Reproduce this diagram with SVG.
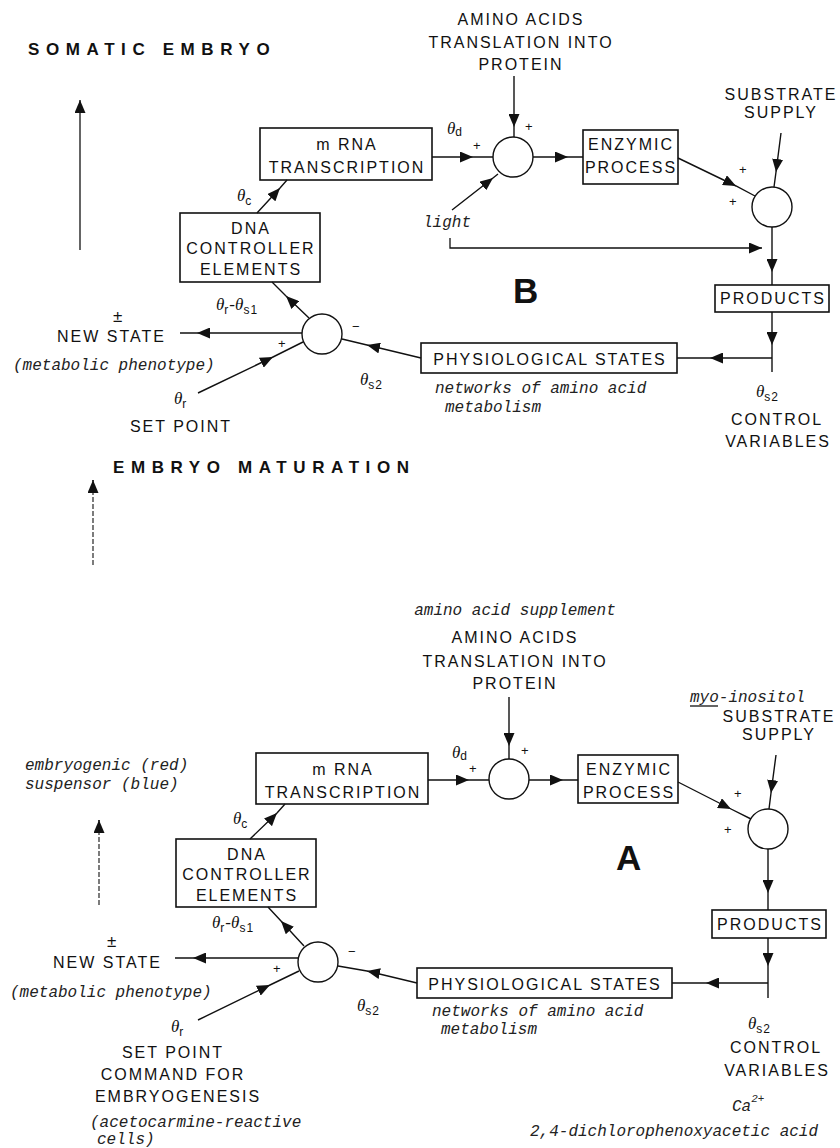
<svg xmlns="http://www.w3.org/2000/svg" width="840" height="1148" viewBox="0 0 840 1148">
<style>
.box{fill:#fff;stroke:#111;stroke-width:1.6}
.jn{fill:#fff;stroke:#111;stroke-width:1.4}
.ln{fill:none;stroke:#111;stroke-width:1.4;marker-mid:url(#ah)}
.lp{fill:none;stroke:#111;stroke-width:1.3}
.dash{fill:none;stroke:#111;stroke-width:1.1;stroke-dasharray:5 2}
.cap{font-family:"Liberation Sans",Arial,sans-serif;font-size:16px;letter-spacing:2px;fill:#111}
.c{text-anchor:middle}
.hd{font-family:"Liberation Sans",Arial,sans-serif;font-weight:bold;font-size:17px;letter-spacing:6.6px;fill:#111}
.big{font-family:"Liberation Sans",Arial,sans-serif;font-weight:bold;font-size:35px;fill:#111}
.it{font-family:"Liberation Mono","Courier New",monospace;font-style:italic;font-size:16px;fill:#222}
.th{font-family:"Liberation Serif","Times New Roman",serif;font-style:italic;font-size:17px;fill:#111}
.sb{font-family:"Liberation Sans",Arial,sans-serif;font-style:normal;font-size:12px;letter-spacing:1px}
.pm{font-family:"Liberation Sans",Arial,sans-serif;font-size:13px;fill:#111}
.pmb{font-family:"Liberation Sans",Arial,sans-serif;font-size:17px;fill:#111}
</style>
<defs>
<marker id="ah" viewBox="0 0 13 11" refX="13" refY="5.5" markerWidth="13" markerHeight="11" markerUnits="userSpaceOnUse" orient="auto"><path d="M0,0 L13,5.5 L0,11 z" fill="#111"/></marker>
</defs>

<g id="headings">
<text class="hd" x="28" y="55">SOMATIC EMBRYO</text>
<text class="hd" x="113" y="473">EMBRYO MATURATION</text>
<text class="it" x="25" y="770">embryogenic (red)</text>
<text class="it" x="25" y="789">suspensor (blue)</text>
<text class="big" x="513" y="303">B</text>
<text class="big" x="616" y="870">A</text>
</g>

<!-- ===== Panel B ===== -->
<g id="B-mrna"><rect class="box" x="260" y="128" width="172" height="52"/>
<text class="cap c" x="347" y="150">m RNA</text><text class="cap c" x="347" y="173">TRANSCRIPTION</text></g>
<g id="B-dna"><rect class="box" x="180" y="213" width="140" height="69"/>
<text class="cap c" x="251" y="234">DNA</text><text class="cap c" x="251" y="254">CONTROLLER</text><text class="cap c" x="251" y="275">ELEMENTS</text></g>
<g id="B-sumL"><circle class="jn" cx="322" cy="334" r="20"/></g>
<g id="B-sum1"><circle class="jn" cx="513" cy="157" r="20"/></g>
<g id="B-enz"><rect class="box" x="583" y="130" width="95" height="54"/>
<text class="cap c" x="631" y="150">ENZYMIC</text><text class="cap c" x="631" y="173">PROCESS</text></g>
<g id="B-sum2"><circle class="jn" cx="772" cy="207" r="20"/></g>
<g id="B-prod"><rect class="box" x="715" y="285" width="114" height="27"/>
<text class="cap c" x="773" y="304">PRODUCTS</text></g>
<g id="B-phys"><rect class="box" x="421" y="343" width="256" height="30"/>
<text class="cap c" x="550" y="365">PHYSIOLOGICAL STATES</text></g>
<g id="B-labels">
<text class="cap c" x="521" y="25">AMINO ACIDS</text>
<text class="cap c" x="521" y="48">TRANSLATION INTO</text>
<text class="cap c" x="521" y="70">PROTEIN</text>
<text class="cap c" x="781" y="100">SUBSTRATE</text>
<text class="cap c" x="781" y="118">SUPPLY</text>
<text class="it" x="423" y="227">light</text>
<text class="cap" x="57" y="342">NEW STATE</text>
<text class="pmb" x="113" y="322">±</text>
<text class="it" x="13" y="370">(metabolic phenotype)</text>
<text class="cap c" x="181" y="432">SET POINT</text>
<text class="it" x="435" y="393">networks of amino acid</text>
<text class="it" x="445" y="412">metabolism</text>
<text class="cap c" x="777" y="425">CONTROL</text>
<text class="cap c" x="778" y="447">VARIABLES</text>
<text class="th" x="237" y="201">θ<tspan class="sb" dy="4">c</tspan></text>
<text class="th" x="447" y="134">θ<tspan class="sb" dy="2">d</tspan></text>
<text class="th" x="216" y="310">θ<tspan class="sb" dy="4">r</tspan><tspan dy="-4">-θ</tspan><tspan class="sb" dy="4">s1</tspan></text>
<text class="th" x="174" y="404">θ<tspan class="sb" dy="4">r</tspan></text>
<text class="th" x="360" y="385">θ<tspan class="sb" dy="4">s2</tspan></text>
<text class="th" x="756" y="397">θ<tspan class="sb" dy="4">s2</tspan></text>
<text class="pm" x="525" y="131">+</text>
<text class="pm" x="473" y="150">+</text>
<text class="pm" x="739" y="174">+</text>
<text class="pm" x="729" y="206">+</text>
<text class="pm" x="278" y="348">+</text>
<text class="pm" x="352" y="331">−</text>
</g>

<!-- ===== Panel A ===== -->
<g id="A-mrna"><rect class="box" x="256" y="753" width="172" height="51"/>
<text class="cap c" x="343" y="775">m RNA</text><text class="cap c" x="343" y="798">TRANSCRIPTION</text></g>
<g id="A-dna"><rect class="box" x="176" y="839" width="140" height="68"/>
<text class="cap c" x="247" y="860">DNA</text><text class="cap c" x="247" y="880">CONTROLLER</text><text class="cap c" x="247" y="901">ELEMENTS</text></g>
<g id="A-sumL"><circle class="jn" cx="318" cy="962" r="20"/></g>
<g id="A-sum1"><circle class="jn" cx="509" cy="779" r="20"/></g>
<g id="A-enz"><rect class="box" x="578" y="755" width="100" height="48"/>
<text class="cap c" x="629" y="775">ENZYMIC</text><text class="cap c" x="629" y="798">PROCESS</text></g>
<g id="A-sum2"><circle class="jn" cx="768" cy="829" r="20"/></g>
<g id="A-prod"><rect class="box" x="712" y="910" width="114" height="28"/>
<text class="cap c" x="770" y="930">PRODUCTS</text></g>
<g id="A-phys"><rect class="box" x="417" y="968" width="255" height="30"/>
<text class="cap c" x="545" y="990">PHYSIOLOGICAL STATES</text></g>
<g id="A-labels">
<text class="it c" x="515" y="615">amino acid supplement</text>
<text class="cap c" x="515" y="643">AMINO ACIDS</text>
<text class="cap c" x="515" y="667">TRANSLATION INTO</text>
<text class="cap c" x="515" y="689">PROTEIN</text>
<text class="it" x="690" y="702">myo-inositol</text>
<line class="lp" x1="690" y1="706" x2="718" y2="706"/>
<text class="cap c" x="779" y="722">SUBSTRATE</text>
<text class="cap c" x="779" y="740">SUPPLY</text>
<text class="cap" x="53" y="968">NEW STATE</text>
<text class="pmb" x="107" y="947">±</text>
<text class="it" x="10" y="997">(metabolic phenotype)</text>
<text class="cap c" x="173" y="1058">SET POINT</text>
<text class="cap c" x="173" y="1080">COMMAND FOR</text>
<text class="cap c" x="178" y="1102">EMBRYOGENESIS</text>
<text class="it" x="90" y="1127">(acetocarmine-reactive</text>
<text class="it" x="97" y="1144">cells)</text>
<text class="it" x="432" y="1016">networks of amino acid</text>
<text class="it" x="441" y="1034">metabolism</text>
<text class="cap c" x="776" y="1053">CONTROL</text>
<text class="cap c" x="777" y="1076">VARIABLES</text>
<text class="it" x="732" y="1111">Ca<tspan font-size="11" dy="-9">2+</tspan></text>
<text class="it" x="530" y="1136">2,4-dichlorophenoxyacetic acid</text>
<text class="th" x="233" y="824">θ<tspan class="sb" dy="4">c</tspan></text>
<text class="th" x="452" y="758">θ<tspan class="sb" dy="2">d</tspan></text>
<text class="th" x="212" y="928">θ<tspan class="sb" dy="4">r</tspan><tspan dy="-4">-θ</tspan><tspan class="sb" dy="4">s1</tspan></text>
<text class="th" x="171" y="1032">θ<tspan class="sb" dy="4">r</tspan></text>
<text class="th" x="357" y="1011">θ<tspan class="sb" dy="4">s2</tspan></text>
<text class="th" x="748" y="1029">θ<tspan class="sb" dy="4">s2</tspan></text>
<text class="pm" x="521" y="755">+</text>
<text class="pm" x="469" y="773">+</text>
<text class="pm" x="734" y="798">+</text>
<text class="pm" x="724" y="834">+</text>
<text class="pm" x="273" y="973">+</text>
<text class="pm" x="348" y="956">−</text>
</g>

<g id="connectors">
<path class="lp" d="M80,250 L80,100" marker-end="url(#ah)"/>
<path class="dash" d="M93,565 L93,480"/>
<path class="lp" d="M93,482 L93,480" marker-end="url(#ah)"/>
<path class="dash" d="M99,905 L99,820"/>
<path class="lp" d="M99,822 L99,820" marker-end="url(#ah)"/>
<!-- Panel B -->
<path class="ln" d="M257,213 L280,188 L287,180"/>
<path class="ln" d="M309,318 L286,296 L272,282"/>
<path class="ln" d="M302,333 L197,333 L180,333"/>
<path class="ln" d="M198,393 L273,357 L303,342"/>
<path class="ln" d="M421,358 L367,345 L342,339"/>
<path class="ln" d="M432,157 L473,157 L493,157"/>
<path class="ln" d="M514,76 L514,127 L514,137"/>
<path class="ln" d="M533,157 L568,157 L583,157"/>
<path class="ln" d="M452,210 L493,178 L498,174"/>
<path class="ln" d="M678,158 L736,186 L755,196"/>
<path class="ln" d="M781,133 L776,172 L774,187"/>
<path class="ln" d="M772,227 L772,272 L772,285"/>
<path class="lp" d="M450,238 L450,248 L762,248" marker-end="url(#ah)"/>
<path class="ln" d="M772,312 L772,345 L772,372"/>
<path class="ln" d="M772,358 L710,358 L677,358"/>
<!-- Panel A -->
<path class="ln" d="M250,839 L277,813 L285,804"/>
<path class="ln" d="M304,946 L281,921 L268,907"/>
<path class="ln" d="M298,958 L193,958 L175,958"/>
<path class="ln" d="M198,1020 L270,985 L299,971"/>
<path class="ln" d="M417,983 L367,971 L338,966"/>
<path class="ln" d="M428,780 L469,780 L489,780"/>
<path class="ln" d="M509,697 L509,746 L509,759"/>
<path class="ln" d="M529,780 L563,780 L578,780"/>
<path class="ln" d="M678,782 L731,809 L751,819"/>
<path class="ln" d="M776,755 L771,793 L769,809"/>
<path class="ln" d="M768,849 L768,893 L768,910"/>
<path class="ln" d="M768,938 L768,966 L768,998"/>
<path class="ln" d="M768,983 L706,983 L672,983"/>
</g>
</svg>
